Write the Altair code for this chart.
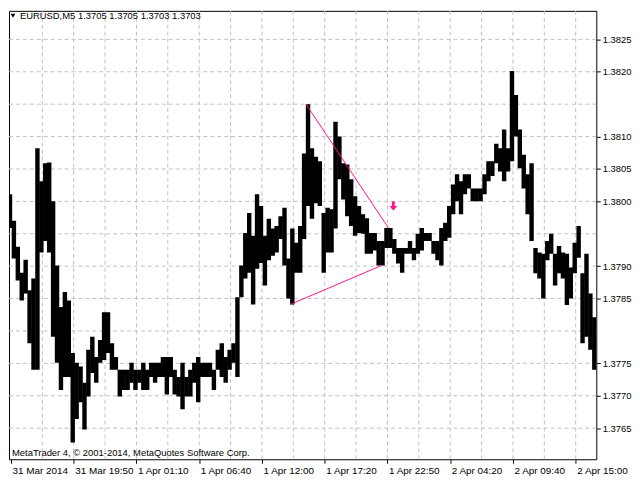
import json

import altair as alt
import pandas as pd

# EURUSD M5, one value pair per group of 4 bars (high / low)
high = [
    1.38011, 1.37970, 1.37930, 1.37890, 1.37910, 1.37863, 1.37881, 1.38082, 1.38031, 1.38059,
    1.38060, 1.38000, 1.37901, 1.37837, 1.37860, 1.37847, 1.37766, 1.37751, 1.37745, 1.37720,
    1.37771, 1.37791, 1.37760, 1.37786, 1.37829, 1.37829, 1.37781, 1.37760, 1.37740, 1.37740,
    1.37740, 1.37751, 1.37740, 1.37740, 1.37751, 1.37740, 1.37751, 1.37751, 1.37751, 1.37760,
    1.37760, 1.37760, 1.37740, 1.37729, 1.37751, 1.37729, 1.37740, 1.37751, 1.37760, 1.37751,
    1.37751, 1.37751, 1.37740, 1.37771, 1.37781, 1.37760, 1.37771, 1.37781, 1.37852, 1.37901,
    1.37951, 1.37982, 1.37947, 1.38011, 1.37993, 1.37947, 1.37973, 1.37958, 1.37962, 1.37977,
    1.37990, 1.37912, 1.37958, 1.37936, 1.37962, 1.38074, 1.38150, 1.38082, 1.38069, 1.38062,
    1.37982, 1.37990, 1.37988, 1.38123, 1.38100, 1.38059, 1.38057, 1.38034, 1.38008, 1.37993,
    1.37980, 1.37974, 1.37951, 1.37951, 1.37939, 1.37939, 1.37959, 1.37959, 1.37942, 1.37928,
    1.37928, 1.37928, 1.37939, 1.37928, 1.37950, 1.37959, 1.37951, 1.37951, 1.37939, 1.37939,
    1.37959, 1.37967, 1.37993, 1.38026, 1.38042, 1.38031, 1.38042, 1.38042, 1.38020, 1.38020,
    1.38020, 1.38042, 1.38062, 1.38062, 1.38089, 1.38082, 1.38111, 1.38082, 1.38201, 1.38164,
    1.38111, 1.38072, 1.38042, 1.38059, 1.37928, 1.37921, 1.37919, 1.37939, 1.37950, 1.37919,
    1.37931, 1.37921, 1.37919, 1.37898, 1.37936, 1.37962, 1.37889, 1.37919, 1.37858, 1.37821,
]
low = [
    1.37959, 1.37912, 1.37878, 1.37847, 1.37858, 1.37781, 1.37740, 1.37740, 1.37921, 1.37939,
    1.37921, 1.37791, 1.37751, 1.37709, 1.37729, 1.37729, 1.37628, 1.37664, 1.37690, 1.37648,
    1.37699, 1.37735, 1.37720, 1.37751, 1.37755, 1.37766, 1.37740, 1.37740, 1.37699, 1.37709,
    1.37709, 1.37720, 1.37709, 1.37720, 1.37709, 1.37709, 1.37729, 1.37720, 1.37729, 1.37729,
    1.37702, 1.37729, 1.37702, 1.37699, 1.37679, 1.37699, 1.37699, 1.37720, 1.37690, 1.37729,
    1.37729, 1.37729, 1.37709, 1.37740, 1.37729, 1.37720, 1.37740, 1.37751, 1.37729, 1.37852,
    1.37881, 1.37890, 1.37841, 1.37896, 1.37905, 1.37870, 1.37909, 1.37916, 1.37921, 1.37942,
    1.37901, 1.37850, 1.37841, 1.37890, 1.37890, 1.37942, 1.37993, 1.37973, 1.37997, 1.37993,
    1.37890, 1.37921, 1.37921, 1.37958, 1.38034, 1.38003, 1.37977, 1.37962, 1.37947, 1.37951,
    1.37950, 1.37919, 1.37919, 1.37924, 1.37901, 1.37901, 1.37928, 1.37928, 1.37919, 1.37904,
    1.37890, 1.37919, 1.37919, 1.37909, 1.37919, 1.37924, 1.37939, 1.37939, 1.37919, 1.37909,
    1.37901, 1.37939, 1.37944, 1.37980, 1.38000, 1.37980, 1.38011, 1.38020, 1.38000, 1.38000,
    1.38000, 1.38011, 1.38031, 1.38039, 1.38059, 1.38046, 1.38031, 1.38046, 1.38062, 1.38100,
    1.38051, 1.38020, 1.37980, 1.37939, 1.37889, 1.37881, 1.37850, 1.37909, 1.37919, 1.37870,
    1.37889, 1.37881, 1.37840, 1.37850, 1.37889, 1.37913, 1.37781, 1.37791, 1.37771, 1.37740,
]

time_labels = ["31 Mar 2014", "31 Mar 19:50", "1 Apr 01:10", "1 Apr 06:40", "1 Apr 12:00",
               "1 Apr 17:20", "1 Apr 22:50", "2 Apr 04:20", "2 Apr 09:40", "2 Apr 15:00"]
label_bars = [0, 64, 128, 192, 256, 320, 384, 448, 512, 576]
grid_bars = [32, 64, 96, 128, 160, 192, 224, 256, 288, 320, 352, 384, 416, 448, 480, 512, 544, 576]
price_labels = [1.3765, 1.3770, 1.3775, 1.3785, 1.3790, 1.3800, 1.3805, 1.3810, 1.3820, 1.3825]
grid_prices = [1.3765, 1.3770, 1.3775, 1.3780, 1.3785, 1.3790, 1.3795, 1.3800, 1.3805,
               1.3810, 1.3815, 1.3820, 1.3825]

# pink trend lines (start bar, start price, end bar, end price)
line_bar1 = [301, 285]
line_p1 = [1.38150, 1.37841]
line_bar2 = [385, 378]
line_p2 = [1.37959, 1.37901]

arrow_bar = [390]
arrow_price = [1.37993]

title_text = "EURUSD,M5  1.3705 1.3705 1.3703 1.3703"
copyright_text = "MetaTrader 4, \u00a9 2001-2014, MetaQuotes Software Corp."

PINK = "#ff1493"
GRID = "#c0c0c0"

bars = pd.DataFrame({"bar": [4 * i - 1 for i in range(len(high))], "high": high, "low": low})

xs = alt.Scale(domain=[-2, 597], nice=False, zero=False)
ys = alt.Scale(domain=[1.37602, 1.38294], nice=False, zero=False)

label_expr = "{}[indexof({}, datum.value)]".format(json.dumps(time_labels), json.dumps(label_bars))

x_axis = alt.Axis(values=label_bars, labelExpr=label_expr, tickSize=4, title=None,
                  labelAlign="left", labelPadding=2, labelOffset=1, grid=False,
                  domain=False, labelFlush=False, labelOverlap=False, labelFontSize=10)
y_axis = alt.Axis(orient="right", values=price_labels, format=".4f", tickSize=4, title=None,
                  labelPadding=2, grid=False, domain=False, labelOverlap=False, labelFontSize=9.5)

hgrid = alt.Chart(pd.DataFrame({"price": grid_prices})).mark_rule(
    color=GRID, strokeDash=[4, 3], strokeWidth=1
).encode(y=alt.Y("price:Q", scale=ys, axis=y_axis))

vgrid = alt.Chart(pd.DataFrame({"bar": grid_bars})).mark_rule(
    color=GRID, strokeDash=[4, 3], strokeWidth=1
).encode(x=alt.X("bar:Q", scale=xs, axis=x_axis))

ohlc = alt.Chart(bars).transform_calculate(
    b0="datum.bar - 2.25", b1="datum.bar + 2.25"
).mark_bar(color="black", strokeWidth=0, clip=True).encode(
    x=alt.X("b0:Q", scale=xs, axis=x_axis),
    x2="b1:Q",
    y=alt.Y("high:Q", scale=ys, axis=y_axis),
    y2="low:Q",
)

trend = alt.Chart(pd.DataFrame({"b1": line_bar1, "p1": line_p1, "b2": line_bar2, "p2": line_p2})).mark_rule(
    color=PINK, strokeWidth=1
).encode(
    x=alt.X("b1:Q", scale=xs, axis=x_axis),
    y=alt.Y("p1:Q", scale=ys, axis=y_axis),
    x2="b2:Q",
    y2="p2:Q",
)

arrow = alt.Chart(pd.DataFrame({"bar": arrow_bar, "price": arrow_price})).mark_point(
    shape="M-0.3,-1L0.3,-1L0.3,0L0.85,0L0,1L-0.85,0L-0.3,0Z",
    filled=True, color=PINK, opacity=1, size=90
).encode(
    x=alt.X("bar:Q", scale=xs, axis=x_axis),
    y=alt.Y("price:Q", scale=ys, axis=y_axis),
)

tri = alt.Chart(pd.DataFrame({"t": [""]})).mark_point(
    shape="triangle-down", filled=True, color="black", opacity=1, size=22
).encode(x=alt.value(4), y=alt.value(5))

title = alt.Chart(pd.DataFrame({"t": [title_text]})).mark_text(
    align="left", baseline="middle", fontSize=9.5, color="black"
).encode(x=alt.value(11), y=alt.value(5), text="t:N")

copyright = alt.Chart(pd.DataFrame({"t": [copyright_text]})).mark_text(
    align="left", baseline="middle", fontSize=9.5, color="black"
).encode(x=alt.value(3), y=alt.value(446), text="t:N")

chart = alt.layer(hgrid, vgrid, ohlc, trend, arrow, tri, title, copyright).properties(
    width=592, height=452, padding={"left": 0, "top": 0, "right": 0, "bottom": 0}
).configure(font="Liberation Sans").configure_view(
    stroke="black", strokeWidth=1
).configure_axis(
    labelColor="black", tickColor="black", labelFont="Liberation Sans"
)

chart.save("out.html", embed_options={"renderer": "svg", "actions": False})
